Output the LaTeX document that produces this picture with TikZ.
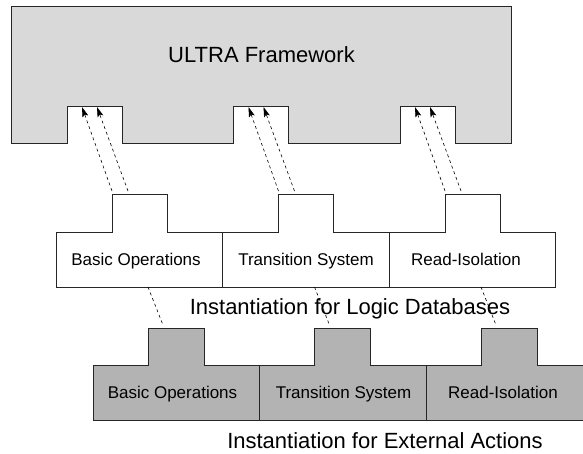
\documentclass[tikz,border=0pt]{standalone}
\usepackage{fontspec}
\setmainfont{Liberation Sans}
\usetikzlibrary{arrows.meta}
\definecolor{ultragray}{HTML}{D9D9D9}
\definecolor{extgray}{HTML}{B3B3B3}
\begin{document}
\begin{tikzpicture}[x=1pt,y=-1pt,
  outline/.style={draw=black!85, line width=0.8pt, line join=miter},
  link/.style={draw=black, line width=0.6pt, dash pattern=on 3pt off 3pt},
  uses/.style={link, -{Stealth[length=10pt,width=6pt,inset=2pt]}},
  rowtext/.style={font=\fontsize{17}{20}\selectfont, anchor=base, inner sep=0pt},
  bigtext/.style={font=\fontsize{22}{26}\selectfont, anchor=base, inner sep=0pt}]
\useasboundingbox (0,0) rectangle (583,453);
\clip (0,0) rectangle (583,453);

% ULTRA framework
\draw[outline, fill=ultragray] (11,6) -- (511,6) -- (511,143) -- (455,143) -- (455,106) -- (400,106) -- (400,143) -- (288.5,143) -- (288.5,106) -- (233.5,106) -- (233.5,143) -- (122,143) -- (122,106) -- (67,106) -- (67,143) -- (11,143) -- cycle;
\node[bigtext] (ultra) at (261.5,62) {ULTRA Framework};

% Logic databases row
\draw[outline, fill=white] (56,232) -- (112,232) -- (112,194) -- (167,194) -- (167,232) -- (278.5,232) -- (278.5,194) -- (333.5,194) -- (333.5,232) -- (445,232) -- (445,194) -- (500,194) -- (500,232) -- (555.5,232) -- (555.5,287) -- (56,287) -- cycle;
\draw[outline] (222.5,232) -- (222.5,287);
\draw[outline] (389,232) -- (389,287);
\node[rowtext] (lbo) at (136,265) {Basic Operations};
\node[rowtext] (lts) at (306,265) {Transition System};
\node[rowtext] (lri) at (466,265) {Read-Isolation};
\node[bigtext] (lcap) at (350,314) {Instantiation for Logic Databases};

% External actions row
\draw[outline, fill=extgray] (93,365) -- (148,365) -- (148,328) -- (204,328) -- (204,365) -- (314.5,365) -- (314.5,328) -- (370.5,328) -- (370.5,365) -- (481,365) -- (481,328) -- (537,328) -- (537,365) -- (592.5,365) -- (592.5,420) -- (93,420) -- cycle;
\draw[outline] (259.5,365) -- (259.5,420);
\draw[outline] (426,365) -- (426,420);
\node[rowtext] (ebo) at (172.5,398) {Basic Operations};
\node[rowtext] (ets) at (343.5,398) {Transition System};
\node[rowtext] (eri) at (503,398) {Read-Isolation};
\node[bigtext] (ecap) at (385,448) {Instantiation for External Actions};

% connectors
\foreach \i in {0,1,2} {
  \pgfmathsetmacro{\dx}{166.5*\i}
  \coordinate (ta\i) at (112+\dx,191);
  \coordinate (tb\i) at (128+\dx,191);
  \coordinate (ha\i) at (82+\dx,107);
  \coordinate (hb\i) at (97+\dx,107);
  \coordinate (ls\i) at (148+\dx,287);
  \coordinate (le\i) at (163+\dx,325);
  \draw[uses] (ta\i) -- (ha\i);
  \draw[uses] (tb\i) -- (hb\i);
  \draw[link] (ls\i) -- (le\i);
}
\end{tikzpicture}
\end{document}
